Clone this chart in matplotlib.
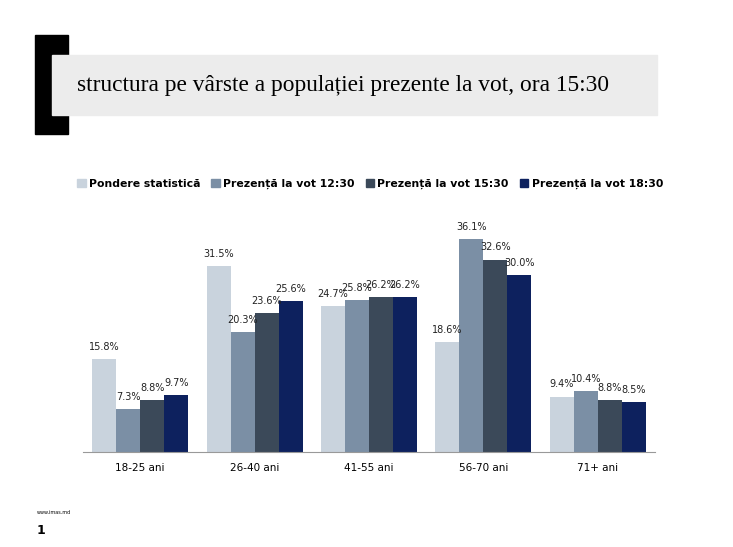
import matplotlib.pyplot as plt
import matplotlib.patches as mpatches
import numpy as np

categories = ["18-25 ani", "26-40 ani", "41-55 ani", "56-70 ani", "71+ ani"]
series_names = ["Pondere statistică", "Prezență la vot 12:30",
                "Prezență la vot 15:30", "Prezență la vot 18:30"]
pondere = [15.8, 31.5, 24.7, 18.6, 9.4]
vot_1230 = [7.3, 20.3, 25.8, 36.1, 10.4]
vot_1530 = [8.8, 23.6, 26.2, 32.6, 8.8]
vot_1830 = [9.7, 25.6, 26.2, 30.0, 8.5]
series = [pondere, vot_1230, vot_1530, vot_1830]
colors = ["#c9d3dd", "#7b8fa5", "#3b4959", "#0d215e"]

W, H = 733, 547
fig = plt.figure(figsize=(W / 100, H / 100), dpi=100)

def px(x0, y0, x1, y1):
    return [x0 / W, 1 - y1 / H, (x1 - x0) / W, (y1 - y0) / H]

# header decoration
fig.patches.append(mpatches.Rectangle((35 / W, 1 - 134 / H), 33 / W, 99 / H,
                                      transform=fig.transFigure, color="black", zorder=1))
fig.patches.append(mpatches.Rectangle((52 / W, 1 - 115 / H), 605 / W, 60 / H,
                                      transform=fig.transFigure, color="#ececec", zorder=2))
fig.text(77 / W, 1 - 85 / H, "structura pe vârste a populației prezente la vot, ora 15:30",
         family="Liberation Serif", fontsize=16.8, va="center", ha="left", zorder=3)

ax = fig.add_axes(px(83, 220, 655, 452))
x = np.arange(len(categories))
bw = 0.21
for i, (vals, c) in enumerate(zip(series, colors)):
    pos = x + (i - 1.5) * bw
    ax.bar(pos, vals, bw, color=c, label=series_names[i])
    for p, v in zip(pos, vals):
        ax.text(p, v + 1.2, f"{v:.1f}%", ha="center", va="bottom", fontsize=7,
                color="#222222")

ax.set_xlim(-0.5, len(categories) - 0.5)
ax.set_ylim(0, 39.3)
ax.set_yticks([])
ax.set_xticks(x)
ax.set_xticklabels(categories, fontsize=7.5)
ax.tick_params(axis="x", length=0, pad=8)
for s in ["top", "right", "left"]:
    ax.spines[s].set_visible(False)
ax.spines["bottom"].set_color("#999999")

handles = [mpatches.Patch(color=c) for c in colors]
fig.legend(handles, series_names, loc="center", bbox_to_anchor=(370 / W, 1 - 184 / H),
           ncol=4, frameon=False, prop={"weight": "bold", "size": 7.8},
           handlelength=0.8, handleheight=0.8, handletextpad=0.3, columnspacing=1.0)

fig.text(37 / W, 1 - 512 / H, "www.imas.md", fontsize=3.5, va="center", ha="left")
fig.text(37 / W, 1 - 530 / H, "1", fontsize=9, weight="bold", va="center", ha="left")

fig.savefig("out.png", dpi=100)
